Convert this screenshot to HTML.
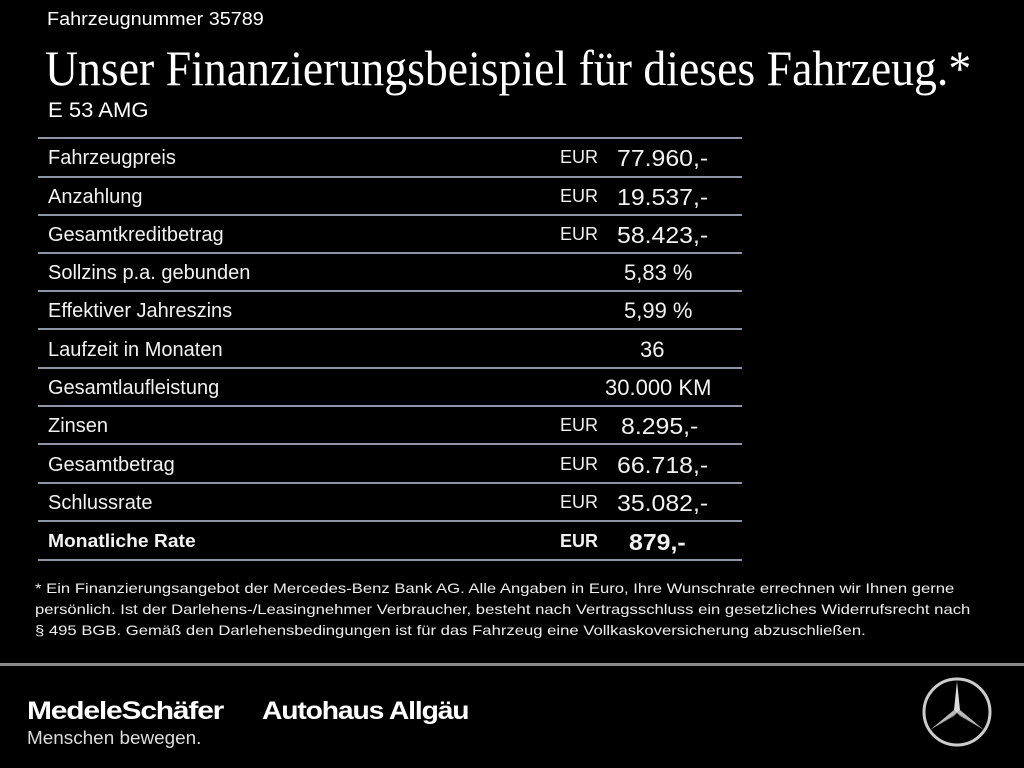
<!DOCTYPE html>
<html><head><meta charset="utf-8"><style>
body{margin:0;background:#000;width:1024px;height:768px;overflow:hidden;position:relative;font-family:"Liberation Sans",sans-serif;color:#fff}
.a{position:absolute;white-space:nowrap;transform-origin:0 0}
.ln{position:absolute;left:38px;width:704px;height:2px;background:#8c95a3}
.r{position:absolute;font-size:20px;white-space:nowrap;color:#f2f2f2;transform-origin:0 0}
.v{font-size:23px;transform:scaleX(1.08)}
</style></head><body>
<div class="a" style="left:47px;top:9px;font-size:18px;transform:scaleX(1.1)">Fahrzeugnummer 35789</div>
<div class="a" style="left:45px;top:39px;font-family:'Liberation Serif',serif;font-size:50px;transform:scaleX(0.915)">Unser Finanzierungsbeispiel für dieses Fahrzeug.*</div>
<div class="a" style="left:48px;top:99px;font-size:21px;transform:scaleX(1.05)">E 53 AMG</div>

<div class="ln" style="top:137px"></div>
<div class="ln" style="top:176px"></div>
<div class="ln" style="top:214px"></div>
<div class="ln" style="top:252px"></div>
<div class="ln" style="top:290px"></div>
<div class="ln" style="top:328px"></div>
<div class="ln" style="top:367px"></div>
<div class="ln" style="top:405px"></div>
<div class="ln" style="top:443px"></div>
<div class="ln" style="top:482px"></div>
<div class="ln" style="top:520px"></div>
<div class="ln" style="top:559px"></div>

<div class="r" style="left:48px;top:147px">Fahrzeugpreis</div><div class="r" style="left:560px;top:147px;font-size:18px">EUR</div><div class="r v" style="left:617px;top:145px">77.960,-</div>
<div class="r" style="left:48px;top:186px">Anzahlung</div><div class="r" style="left:560px;top:186px;font-size:18px">EUR</div><div class="r v" style="left:617px;top:184px">19.537,-</div>
<div class="r" style="left:48px;top:224px">Gesamtkreditbetrag</div><div class="r" style="left:560px;top:224px;font-size:18px">EUR</div><div class="r v" style="left:617px;top:222px">58.423,-</div>
<div class="r" style="left:48px;top:262px">Sollzins p.a. gebunden</div><div class="r" style="left:624px;top:260px;font-size:22px">5,83 %</div>
<div class="r" style="left:48px;top:300px">Effektiver Jahreszins</div><div class="r" style="left:624px;top:298px;font-size:22px">5,99 %</div>
<div class="r" style="left:48px;top:339px">Laufzeit in Monaten</div><div class="r" style="left:640px;top:337px;font-size:22px">36</div>
<div class="r" style="left:48px;top:377px">Gesamtlaufleistung</div><div class="r" style="left:605px;top:375px;font-size:22px">30.000 KM</div>
<div class="r" style="left:48px;top:415px">Zinsen</div><div class="r" style="left:560px;top:415px;font-size:18px">EUR</div><div class="r v" style="left:621px;top:413px">8.295,-</div>
<div class="r" style="left:48px;top:454px">Gesamtbetrag</div><div class="r" style="left:560px;top:454px;font-size:18px">EUR</div><div class="r v" style="left:617px;top:452px">66.718,-</div>
<div class="r" style="left:48px;top:492px">Schlussrate</div><div class="r" style="left:560px;top:492px;font-size:18px">EUR</div><div class="r v" style="left:617px;top:490px">35.082,-</div>
<div class="r" style="left:48px;top:531px;font-weight:bold;font-size:18px;transform:scaleX(1.07)">Monatliche Rate</div><div class="r" style="left:560px;top:531px;font-size:18px;font-weight:bold">EUR</div><div class="r v" style="left:629px;top:529px;font-weight:bold">879,-</div>

<div class="a" style="left:35px;top:578px;font-size:14px;line-height:21px;color:#eee;transform:scaleX(1.19)">* Ein Finanzierungsangebot der Mercedes-Benz Bank AG. Alle Angaben in Euro, Ihre Wunschrate errechnen wir Ihnen gerne<br>persönlich. Ist der Darlehens-/Leasingnehmer Verbraucher, besteht nach Vertragsschluss ein gesetzliches Widerrufsrecht nach<br>§ 495 BGB. Gemäß den Darlehensbedingungen ist für das Fahrzeug eine Vollkaskoversicherung abzuschließen.</div>

<div style="position:absolute;left:0;top:663px;width:1024px;height:3px;background:#8a8a8a"></div>
<div class="a" style="left:27px;top:697px;font-size:25px;font-weight:bold;letter-spacing:-1px;transform:scaleX(1.2)">MedeleSchäfer</div>
<div class="a" style="left:262px;top:697px;font-size:25px;font-weight:bold;letter-spacing:-1px;transform:scaleX(1.13)">Autohaus Allgäu</div>
<div class="a" style="left:27px;top:728px;font-size:18px;color:#ddd;transform:scaleX(1.05)">Menschen bewegen.</div>
<svg style="position:absolute;left:920px;top:675px" width="74" height="74" viewBox="0 0 74 74">
<circle cx="37" cy="37" r="33" fill="none" stroke="#ccc" stroke-width="3"/>
<polygon points="37,6 40,35 37,38 34,35" fill="#ddd"/>
<polygon points="37,38 40,35 64,55 " fill="#bbb"/>
<polygon points="37,38 34,35 10,55" fill="#bbb"/>
<polygon points="37,38 40,41 64,55" fill="#999"/>
<polygon points="37,38 34,41 10,55" fill="#999"/>
</svg>
</body></html>
